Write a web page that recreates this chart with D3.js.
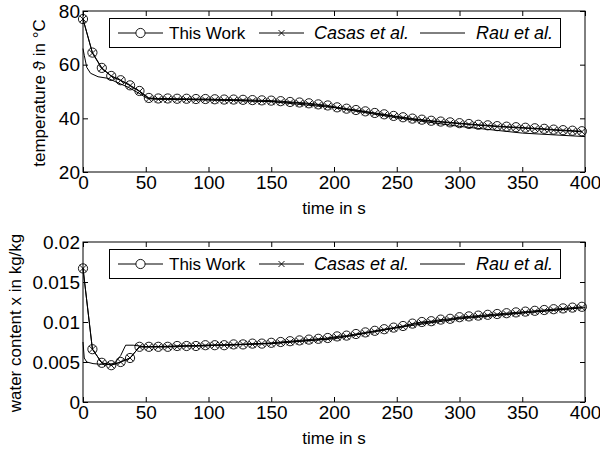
<!DOCTYPE html>
<html lang="en">
<head>
<meta charset="utf-8">
<title>Temperature and water content</title>
<script src="https://cdnjs.cloudflare.com/ajax/libs/d3/7.8.5/d3.min.js"></script>
<style>
    body { margin: 0; background: #fff; }
    svg { display: block; }
    text { font-family: "Liberation Sans", Arial, sans-serif; fill: #000; }
    .axis text { font-size: 19px; }
    .axis path { display: none; }
    .axis line { stroke: #000; }
</style>
</head>
<body>
<svg id="chart" width="600" height="450"></svg>
<script>
// sample times of the marked series (s)
const timeMarked = [0, 7.5, 15, 22.5, 30, 37.5, 45, 52.5, 60, 67.5, 75, 82.5, 90, 97.5,
    105, 112.5, 120, 127.5, 135, 142.5, 150, 157.5, 165, 172.5, 180, 187.5, 195,
    202.5, 210, 217.5, 225, 232.5, 240, 247.5, 255, 262.5, 270, 277.5, 285, 292.5,
    300, 307.5, 315, 322.5, 330, 337.5, 345, 352.5, 360, 367.5, 375, 382.5, 390, 397.5];

// temperature in degC
const tempThisWork = [77, 64.5, 58.8, 55.8, 54.2, 52.3, 50.2, 47.6, 47.4, 47.4, 47.3, 47.3, 47.2, 47.2,
    47.1, 47.0, 47.0, 46.9, 46.8, 46.7, 46.6, 46.4, 46.1, 45.9, 45.6, 45.2, 44.8,
    44.1, 43.6, 43.1, 42.6, 42.0, 41.5, 40.9, 40.4, 39.9, 39.5, 39.1, 38.8, 38.5,
    38.2, 37.9, 37.6, 37.4, 37.1, 36.9, 36.7, 36.5, 36.3, 36.1, 35.8, 35.6, 35.4, 35.2];
const tempCasas = [77, 64.3, 58.6, 55.7, 54.1, 52.2, 50.0, 47.3, 47.1, 47.1, 47.0, 47.0, 46.9, 46.9,
    46.8, 46.7, 46.7, 46.6, 46.5, 46.4, 46.3, 46.1, 45.9, 45.6, 45.3, 44.9, 44.5,
    43.9, 43.4, 42.9, 42.4, 41.8, 41.3, 40.7, 40.2, 39.7, 39.3, 38.9, 38.6, 38.3,
    38.0, 37.7, 37.4, 37.2, 36.9, 36.7, 36.5, 36.3, 36.1, 35.9, 35.6, 35.4, 35.2, 35.0];
const timeRauTemp = [0, 1, 3, 6, 12, 20, 28, 36, 44, 51, 60, 100, 150, 200, 250, 300, 350, 400];
const tempRau = [66, 63.5, 59, 56.8, 55.5, 54.9, 53.2, 51.6, 49.5, 47.5, 47.2, 46.9, 46.2, 44.0, 40.2, 37.0, 34.5, 33.2];

// water content in kg/kg
const waterThisWork = [0.0167, 0.0066, 0.0049, 0.0046, 0.0050, 0.0055, 0.0069, 0.0069, 0.0069, 0.0069,
    0.0070, 0.0070, 0.0070, 0.0071, 0.0071, 0.0071, 0.0072, 0.0072, 0.0073, 0.0073,
    0.0074, 0.0075, 0.0076, 0.0077, 0.0078, 0.0079, 0.0080, 0.0082, 0.0083, 0.0085,
    0.0087, 0.0089, 0.0091, 0.0093, 0.0095, 0.0098, 0.0100, 0.0101, 0.0103, 0.0104,
    0.0106, 0.0107, 0.0108, 0.0109, 0.0110, 0.0111, 0.0112, 0.0113, 0.0114, 0.0115,
    0.0116, 0.0117, 0.0118, 0.0119];
const waterCasas = [0.0167, 0.0066, 0.0049, 0.0046, 0.0050, 0.0055, 0.0069, 0.0069, 0.0069, 0.0069,
    0.0069, 0.0070, 0.0070, 0.0070, 0.0071, 0.0071, 0.0071, 0.0072, 0.0072, 0.0073,
    0.0073, 0.0074, 0.0075, 0.0076, 0.0077, 0.0078, 0.0079, 0.0081, 0.0082, 0.0084,
    0.0086, 0.0088, 0.0090, 0.0092, 0.0094, 0.0097, 0.0099, 0.0100, 0.0102, 0.0103,
    0.0105, 0.0106, 0.0107, 0.0108, 0.0109, 0.0110, 0.0111, 0.0112, 0.0113, 0.0114,
    0.0115, 0.0116, 0.0117, 0.0118];
const timeRauWater = [0, 1, 3, 8, 15, 25, 30, 34, 40, 50, 100, 150, 200, 250, 300, 350, 400];
const waterRau = [0.0075, 0.0055, 0.0050, 0.0048, 0.0047, 0.0048, 0.0058, 0.0071, 0.0071, 0.0069,
    0.0071, 0.0073, 0.0079, 0.0093, 0.0104, 0.0111, 0.0118];

const xTicks = [0, 50, 100, 150, 200, 250, 300, 350, 400];
const tempTicks = [20, 40, 60, 80];
const waterTicks = [0, 0.005, 0.01, 0.015, 0.02];
const legendNames = ["This Work", "Casas et al.", "Rau et al."];

const svg = d3.select("#chart");
const left = 83, right = 585;

function drawPanel(cfg) {
    const x = d3.scaleLinear().domain([0, 400]).range([left, right]);
    const y = d3.scaleLinear().domain(cfg.yDomain).range([cfg.bottom, cfg.top]);
    const g = svg.append("g");

    // axes with inward ticks on all four sides
    g.append("g").attr("class", "axis")
        .attr("transform", "translate(0," + cfg.bottom + ")")
        .call(d3.axisBottom(x).tickValues(xTicks).tickSize(-5).tickPadding(3).tickFormat(d3.format("d")));
    g.append("g").attr("class", "axis")
        .attr("transform", "translate(0," + cfg.top + ")")
        .call(d3.axisTop(x).tickValues(xTicks).tickSize(-5).tickFormat(""));
    g.append("g").attr("class", "axis")
        .attr("transform", "translate(" + left + ",0)")
        .call(d3.axisLeft(y).tickValues(cfg.yTicks).tickSize(-5).tickPadding(3).tickFormat(d => String(d)));
    g.append("g").attr("class", "axis")
        .attr("transform", "translate(" + right + ",0)")
        .call(d3.axisRight(y).tickValues(cfg.yTicks).tickSize(-5).tickFormat(""));

    g.append("rect")
        .attr("x", left).attr("y", cfg.top)
        .attr("width", right - left).attr("height", cfg.bottom - cfg.top)
        .attr("fill", "none").attr("stroke", "#000").attr("stroke-width", 1);

    const line = d3.line().x(d => x(d[0])).y(d => y(d[1]));

    const rau = cfg.rauT.map((t, i) => [t, cfg.rau[i]]);
    const casas = timeMarked.map((t, i) => [t, cfg.casas[i]]);
    const work = timeMarked.map((t, i) => [t, cfg.work[i]]);

    g.append("path").datum(rau).attr("d", line)
        .attr("fill", "none").attr("stroke", "#000").attr("stroke-width", 1);
    g.append("path").datum(casas).attr("d", line)
        .attr("fill", "none").attr("stroke", "#000").attr("stroke-width", 1);
    g.append("path").datum(work).attr("d", line)
        .attr("fill", "none").attr("stroke", "#000").attr("stroke-width", 1);

    // x markers (Casas)
    g.selectAll(".xm").data(casas).enter().append("path")
        .attr("d", d => {
            const cx = x(d[0]), cy = y(d[1]), s = 3.3;
            return "M" + (cx - s) + "," + (cy - s) + "L" + (cx + s) + "," + (cy + s) +
                "M" + (cx - s) + "," + (cy + s) + "L" + (cx + s) + "," + (cy - s);
        })
        .attr("stroke", "#000").attr("stroke-width", 0.9);
    // circle markers (This Work)
    g.selectAll(".cm").data(work).enter().append("circle")
        .attr("cx", d => x(d[0])).attr("cy", d => y(d[1])).attr("r", 4.6)
        .attr("fill", "none").attr("stroke", "#000").attr("stroke-width", 0.9);

    // axis labels
    g.append("text")
        .attr("x", (left + right) / 2).attr("y", cfg.bottom + 42)
        .attr("text-anchor", "middle").style("font-size", "17px")
        .text("time in s");
    g.append("text")
        .attr("transform", "translate(" + cfg.ylabX + "," + cfg.ylabY + ") rotate(-90)")
        .attr("text-anchor", "middle").style("font-size", "17px")
        .text(cfg.ylabel);

    // legend
    const ly = cfg.top + 22;
    const lg = g.append("g");
    lg.append("rect")
        .attr("x", 109.5).attr("y", cfg.top + 7.5).attr("width", 451).attr("height", 29)
        .attr("fill", "#fff").attr("stroke", "#000").attr("stroke-width", 1);
    const items = [
        { seg: 118, txt: 169, italic: false, mark: "o" },
        { seg: 259, txt: 314, italic: true, mark: "x" },
        { seg: 420, txt: 476, italic: true, mark: "" }
    ];
    items.forEach((it, i) => {
        lg.append("line").attr("x1", it.seg).attr("x2", it.seg + 45)
            .attr("y1", ly).attr("y2", ly).attr("stroke", "#000").attr("stroke-width", 1);
        const cx = it.seg + 22.5;
        if (it.mark === "o") {
            lg.append("circle").attr("cx", cx).attr("cy", ly).attr("r", 4.6)
                .attr("fill", "#fff").attr("stroke", "#000").attr("stroke-width", 0.9);
        } else if (it.mark === "x") {
            const s = 3;
            lg.append("path")
                .attr("d", "M" + (cx - s) + "," + (ly - s) + "L" + (cx + s) + "," + (ly + s) +
                    "M" + (cx - s) + "," + (ly + s) + "L" + (cx + s) + "," + (ly - s))
                .attr("stroke", "#000").attr("stroke-width", 0.9);
        }
        lg.append("text").attr("x", it.txt).attr("y", ly + 6)
            .style("font-size", i === 0 ? "17px" : "18px").style("font-style", it.italic ? "italic" : "normal")
            .text(legendNames[i]);
    });
}

drawPanel({
    top: 11, bottom: 172, yDomain: [20, 80], yTicks: tempTicks,
    work: tempThisWork, casas: tempCasas, rau: tempRau, rauT: timeRauTemp,
    ylabel: "temperature \u03D1 in \u00B0C", ylabX: 45, ylabY: 93
});
drawPanel({
    top: 242, bottom: 402, yDomain: [0, 0.02], yTicks: waterTicks,
    work: waterThisWork, casas: waterCasas, rau: waterRau, rauT: timeRauWater,
    ylabel: "water content x in kg/kg", ylabX: 21, ylabY: 323
});
</script>
</body>
</html>
